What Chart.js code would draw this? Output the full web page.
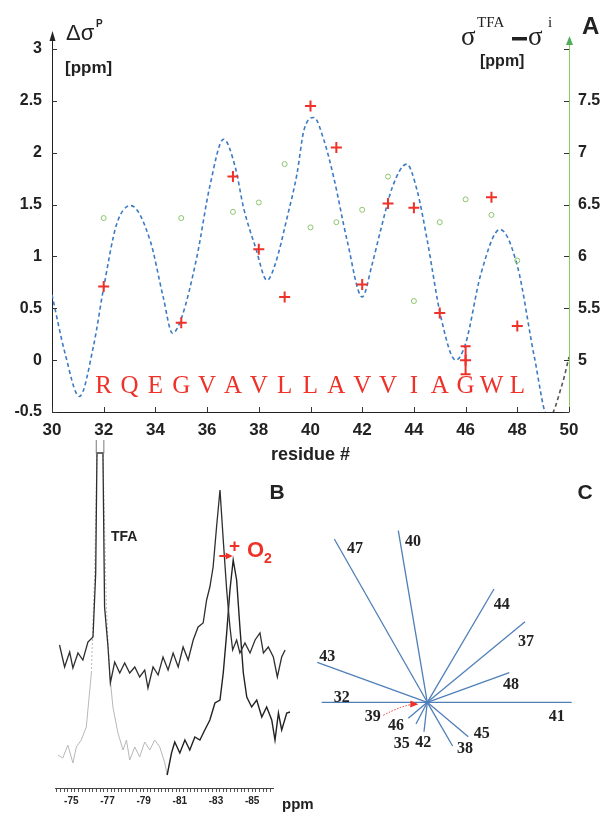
<!DOCTYPE html>
<html lang="en">
<head>
  <meta charset="UTF-8">
  <title>Residue shifts</title>
  <script src="https://cdn.jsdelivr.net/npm/chart.js"></script>
  <style>
    body { margin: 0; background: #fff; }
    #wrap { position: relative; width: 601px; height: 815px; }
    canvas { position: absolute; }
    #chartA { left: 0; top: 0; }
    #chartB { left: 40px; top: 440px; }
    #chartC { left: 300px; top: 470px; }
  </style>
</head>
<body>
<div id="wrap">
  <canvas id="chartA" width="601" height="470"></canvas>
  <canvas id="chartB" width="290" height="375"></canvas>
  <canvas id="chartC" width="301" height="330"></canvas>
</div>
<script>
// ---- panel A : shifts per residue ----
const residues = [32, 33, 34, 35, 36, 37, 38, 39, 40, 41, 42, 43, 44, 45, 46, 47, 48];
const sequence = ['R', 'Q', 'E', 'G', 'V', 'A', 'V', 'L', 'L', 'A', 'V', 'V', 'I', 'A', 'G', 'W', 'L'];
const deltaP = [0.71, null, null, 0.36, null, 1.77, 1.07, 0.61, 2.45, 2.05, 0.73, 1.51, 1.47, 0.455, 0.0, 1.57, 0.33];
const deltaPErr = [0, 0, 0, 0, 0, 0, 0, 0, 0, 0, 0, 0, 0, 0, 0.135, 0, 0];
const sigmaDiff = [6.37, null, null, 6.37, null, 6.43, 6.52, 6.89, 6.28, 6.33, 6.45, 6.77, 5.57, 6.33, 6.55, 6.40, 5.96];
// dashed fit curve
const fitX = [30, 30.5, 31.06, 31.6, 32, 32.5, 33.05, 33.8, 34.3, 34.66, 35.0, 35.6, 36.1, 36.64, 37.09, 37.41, 37.87, 38.32, 38.64, 39.1, 39.48, 39.74, 40.13, 40.52, 40.9, 41.42, 42.0, 42.39, 42.71, 43.17, 43.72, 44.13, 44.52, 45.04, 45.62, 46.0, 46.59, 47.33, 48.01, 48.66, 49.2, 49.75, 50];
const fitY = [0.63, 0.07, -0.35, 0.13, 0.70, 1.31, 1.49, 1.15, 0.61, 0.26, 0.40, 0.99, 1.67, 2.13, 1.86, 1.47, 1.09, 0.77, 0.93, 1.38, 1.80, 2.21, 2.34, 2.12, 1.76, 1.15, 0.61, 0.93, 1.25, 1.67, 1.89, 1.63, 1.15, 0.42, 0.0, 0.16, 0.83, 1.26, 0.90, 0.03, -0.56, -0.22, 0.03];

// ---- panel B : 19F spectra (ppm, intensity) ----
const ppmUpper = [-74.35, -74.63, -74.91, -75.09, -75.37, -75.64, -75.92, -76.20, -76.35, -76.42, -76.75, -76.84, -77.03, -77.16, -77.40, -77.68, -77.95, -78.23, -78.51, -78.78, -79.06, -79.24, -79.52, -79.80, -80.07, -80.35, -80.63, -80.91, -81.18, -81.46, -81.74, -82.01, -82.29, -82.48, -82.66, -82.84, -83.03, -83.22, -83.40, -83.59, -83.77, -83.92, -84.14, -84.32, -84.60, -84.88, -85.16, -85.43, -85.62, -85.89, -86.17, -86.39, -86.63, -86.82];
const intUpper = [143, 121, 136, 120, 135, 128, 146, 151, 215, 335, 335, 181, 141, 105, 126, 115, 125, 115, 121, 111, 118, 100, 121, 113, 131, 118, 135, 121, 141, 128, 148, 161, 165, 188, 201, 221, 261, 298, 248, 198, 161, 138, 148, 135, 145, 135, 148, 155, 135, 141, 131, 111, 131, 138];
const ppmLower = [-74.26, -74.53, -74.81, -75.09, -75.28, -75.55, -75.83, -76.11, -76.29, -76.42, -76.75, -76.94, -77.12, -77.30, -77.58, -77.86, -78.05, -78.23, -78.51, -78.78, -79.06, -79.34, -79.61, -79.89, -80.17, -80.30, -80.54, -80.72, -81.00, -81.28, -81.55, -81.83, -82.11, -82.38, -82.66, -82.94, -83.22, -83.40, -83.59, -83.77, -83.95, -84.14, -84.32, -84.51, -84.70, -84.97, -85.25, -85.53, -85.80, -86.08, -86.26, -86.45, -86.63, -86.91, -87.09];
const intLower = [33, 30, 43, 25, 41, 48, 61, 115, 215, 335, 335, 181, 115, 81, 55, 38, 48, 28, 41, 31, 46, 38, 48, 41, 25, 13, 35, 46, 35, 48, 38, 51, 48, 58, 68, 85, 88, 115, 155, 198, 228, 208, 161, 115, 91, 81, 88, 71, 81, 68, 48, 75, 58, 75, 76];

// ---- panel C : per-residue vectors ----
const wheelRes = ['41', '32', '43', '47', '40', '44', '37', '48', '45', '38', '42', '46', '35'];
const wheelX = [144.4, -105.6, -110, -93, -29, 66.7, 97.7, 82, 41, 25.3, -3.3, -19, -11.3];
const wheelY = [0, 0, 40, 163.3, 171.6, 113.3, 80.6, 29.6, -34.4, -43.7, -29.4, -16, -21.7];
const wheelLabels = ['47', '40', '44', '37', '43', '48', '32', '41', '39', '46', '45', '35', '42', '38'];
const wheelLabelX = [-72.3, -14.3, 74.4, 98.7, -100, 83.7, -85.6, 129.4, -54.6, -31.3, 54.4, -25.6, -4, 37.7];
const wheelLabelY = [153.3, 160.6, 97.3, 60.6, 45.6, 17.3, 4.6, -14.4, -14.4, -23.7, -32, -41.7, -41, -47];

const RED = '#ee3129';
const GREEN = '#8cc56c';
const BLUE = '#3b7bc3';
const INK = '#222';

function arrowHead(ctx, x, y, ang, len, half) {
  ctx.beginPath();
  ctx.moveTo(x, y);
  ctx.lineTo(x - len * Math.cos(ang) + half * Math.sin(ang), y - len * Math.sin(ang) - half * Math.cos(ang));
  ctx.lineTo(x - len * Math.cos(ang) - half * Math.sin(ang), y - len * Math.sin(ang) + half * Math.cos(ang));
  ctx.closePath();
  ctx.fill();
}

const plainNum = v => String(Math.round(v * 100) / 100);

// ticks pointing into the plot, axis arrows, letters, error bar, headings
const panelA = {
  id: 'panelA',
  afterDraw(chart) {
    const {ctx, chartArea: a, scales: {x, y, y2}} = chart;
    ctx.save();
    ctx.lineWidth = 1;
    ctx.strokeStyle = '#333';
    ctx.beginPath();
    y.ticks.forEach(t => {
      const p = Math.round(y.getPixelForValue(t.value)) + 0.5;
      ctx.moveTo(a.left, p); ctx.lineTo(a.left + 5, p);
    });
    y2.ticks.forEach(t => {
      const p = Math.round(y2.getPixelForValue(t.value)) + 0.5;
      ctx.moveTo(a.right, p); ctx.lineTo(a.right - 5, p);
    });
    x.ticks.forEach(t => {
      const p = Math.round(x.getPixelForValue(t.value)) + 0.5;
      ctx.moveTo(p, a.bottom); ctx.lineTo(p, a.bottom - 5);
    });
    ctx.stroke();

    // axis extensions with arrow heads
    ctx.strokeStyle = INK;
    ctx.beginPath(); ctx.moveTo(a.left + 0.5, a.top); ctx.lineTo(a.left + 0.5, 38); ctx.stroke();
    ctx.fillStyle = INK;
    arrowHead(ctx, a.left + 0.5, 31, -Math.PI / 2, 10, 3);
    ctx.strokeStyle = GREEN;
    ctx.beginPath(); ctx.moveTo(a.right + 0.5, a.top); ctx.lineTo(a.right + 0.5, 44); ctx.stroke();
    ctx.fillStyle = '#4fae5a';
    arrowHead(ctx, a.right + 0.5, 36, -Math.PI / 2, 9, 3.5);

    // error bars
    ctx.strokeStyle = RED;
    ctx.lineWidth = 2;
    residues.forEach((r, i) => {
      if (!deltaPErr[i]) return;
      const px = x.getPixelForValue(r);
      const top = y.getPixelForValue(deltaP[i] + deltaPErr[i]);
      const bot = y.getPixelForValue(deltaP[i] - deltaPErr[i]);
      ctx.beginPath();
      ctx.moveTo(px, top); ctx.lineTo(px, bot);
      ctx.moveTo(px - 5, top); ctx.lineTo(px + 5, top);
      ctx.moveTo(px - 5, bot); ctx.lineTo(px + 5, bot);
      ctx.stroke();
    });

    // one-letter sequence
    ctx.fillStyle = RED;
    ctx.font = '25px "Liberation Serif"';
    ctx.textAlign = 'center';
    ctx.textBaseline = 'middle';
    residues.forEach((r, i) => {
      ctx.fillText(sequence[i], x.getPixelForValue(r), y.getPixelForValue(-0.25));
    });

    // axis headings
    ctx.fillStyle = INK;
    ctx.textAlign = 'left';
    ctx.textBaseline = 'alphabetic';
    ctx.font = '22px "Liberation Sans"';
    ctx.fillText('Δσ', 66, 40);
    ctx.font = 'bold 10px "Liberation Sans"';
    ctx.fillText('P', 96, 27);
    ctx.font = 'bold 17px "Liberation Sans"';
    ctx.fillText('[ppm]', 65, 73);
    ctx.font = '27px "Liberation Serif"';
    ctx.fillText('σ', 461, 45);
    ctx.fillText('σ', 528, 45);
    ctx.font = '15px "Liberation Serif"';
    ctx.fillText('TFA', 477, 27);
    ctx.fillText('i', 548, 27);
    ctx.fillRect(512, 37, 15, 3.5);
    ctx.font = 'bold 16px "Liberation Sans"';
    ctx.fillText('[ppm]', 480, 66);
    ctx.font = 'bold 24px "Liberation Sans"';
    ctx.fillText('A', 582, 34);
    ctx.restore();
  }
};

new Chart(document.getElementById('chartA'), {
  type: 'scatter',
  data: {
    datasets: [
      {
        label: 'Δσ P',
        data: residues.map((r, i) => ({x: r, y: deltaP[i]})).filter(p => p.y !== null),
        pointStyle: 'cross',
        pointRadius: 5.5,
        borderColor: RED,
        borderWidth: 2,
        yAxisID: 'y'
      },
      {
        label: 'σTFA − σi',
        data: residues.map((r, i) => ({x: r, y: sigmaDiff[i]})).filter(p => p.y !== null),
        pointStyle: 'circle',
        pointRadius: 2.5,
        borderColor: GREEN,
        backgroundColor: 'rgba(0,0,0,0)',
        borderWidth: 1,
        yAxisID: 'y2'
      },
      {
        label: 'fit',
        data: fitX.map((v, i) => ({x: v, y: fitY[i]})),
        showLine: true,
        pointRadius: 0,
        borderColor: BLUE,
        borderWidth: 1.6,
        borderDash: [4, 3],
        cubicInterpolationMode: 'monotone',
        segment: { borderColor: c => c.p0.parsed.x >= 49.2 ? '#555' : undefined },
        yAxisID: 'y'
      }
    ]
  },
  options: {
    responsive: false,
    animation: false,
    events: [],
    layout: { padding: { top: 49, left: 0, right: 0, bottom: 0 } },
    plugins: { legend: { display: false }, tooltip: { enabled: false } },
    scales: {
      x: {
        type: 'linear', min: 30, max: 50,
        ticks: { stepSize: 2, color: INK, font: { family: 'Liberation Sans', size: 17, weight: 'bold' }, padding: 8, maxRotation: 0 },
        grid: { display: true, drawOnChartArea: false, drawTicks: false },
        border: { display: true, color: INK, width: 1 },
        title: { display: true, text: 'residue #', color: INK, font: { family: 'Liberation Sans', size: 18, weight: 'bold' }, padding: { top: 0, bottom: 4 } },
        afterFit: s => { s.height = 58; }
      },
      y: {
        position: 'left', min: -0.5, max: 3,
        ticks: { stepSize: 0.5, color: INK, font: { family: 'Liberation Sans', size: 16, weight: 'bold' }, padding: 10, callback: plainNum },
        grid: { display: true, drawOnChartArea: false, drawTicks: false },
        border: { display: true, color: INK, width: 1 },
        afterFit: s => { s.width = 52; }
      },
      y2: {
        position: 'right', min: 4.5, max: 8,
        ticks: {
          stepSize: 0.5, color: INK, font: { family: 'Liberation Sans', size: 16, weight: 'bold' }, padding: 9,
          callback: v => (v > 4.6 && v < 7.9) ? plainNum(v) : ''
        },
        grid: { display: true, drawOnChartArea: false, drawTicks: false },
        border: { display: true, color: GREEN, width: 1 },
        afterFit: s => { s.width = 32; }
      }
    }
  },
  plugins: [panelA]
});

// ---- panel B ----
const panelB = {
  id: 'panelB',
  afterDraw(chart) {
    const {ctx, scales: {x, y}} = chart;
    ctx.save();
    // truncation box over the TFA peak
    const bx0 = x.getPixelForValue(-76.38), bx1 = x.getPixelForValue(-76.80);
    const by0 = y.getPixelForValue(351), by1 = y.getPixelForValue(335);
    ctx.strokeStyle = '#777';
    ctx.lineWidth = 1;
    ctx.strokeRect(Math.min(bx0, bx1), by0, Math.abs(bx1 - bx0), by1 - by0);

    // shift arrow between the two peaks
    const ax0 = x.getPixelForValue(-83.18), ax1 = x.getPixelForValue(-83.92), ay = y.getPixelForValue(232);
    ctx.strokeStyle = RED;
    ctx.fillStyle = RED;
    ctx.lineWidth = 2;
    ctx.beginPath(); ctx.moveTo(ax0, ay); ctx.lineTo(ax1 - 4, ay); ctx.stroke();
    arrowHead(ctx, ax1, ay, 0, 7, 3.5);
    ctx.textBaseline = 'alphabetic';
    ctx.textAlign = 'left';
    ctx.font = 'bold 19px "Liberation Sans"';
    ctx.fillText('+', 189, 112);
    ctx.font = 'bold 22px "Liberation Sans"';
    ctx.fillText('O', 207, 117);
    ctx.font = 'bold 14px "Liberation Sans"';
    ctx.fillText('2', 224, 123);

    ctx.fillStyle = INK;
    ctx.font = 'bold 14px "Liberation Sans"';
    ctx.fillText('TFA', 71, 101);
    ctx.font = 'bold 15px "Liberation Sans"';
    ctx.fillText('ppm', 242, 369);
    ctx.font = 'bold 21px "Liberation Sans"';
    ctx.textAlign = 'center';
    ctx.textBaseline = 'middle';
    ctx.fillText('B', 237, 53);
    ctx.restore();
  }
};

new Chart(document.getElementById('chartB'), {
  type: 'scatter',
  data: {
    datasets: [
      {
        label: 'without O2',
        data: ppmUpper.map((v, i) => ({x: v, y: intUpper[i]})),
        showLine: true, pointRadius: 0, borderColor: '#2e2e2e', borderWidth: 1.3, clip: false
      },
      {
        label: 'with O2',
        data: ppmLower.map((v, i) => ({x: v, y: intLower[i]})),
        showLine: true, pointRadius: 0, borderColor: '#222', borderWidth: 1.4, clip: false,
        segment: {
          borderColor: c => c.p1.parsed.x > -80.35 ? '#b8b8b8' : '#222',
          borderWidth: c => c.p1.parsed.x > -80.35 ? 1 : 1.4,
          borderDash: c => (c.p0.parsed.x > -78 && c.p0.parsed.y > 110 && c.p1.parsed.y > 110) ? [2, 2] : undefined
        }
      }
    ]
  },
  options: {
    responsive: false,
    animation: false,
    events: [],
    layout: { padding: { top: 8, left: 15, right: 57, bottom: 0 } },
    plugins: { legend: { display: false }, tooltip: { enabled: false } },
    scales: {
      x: {
        type: 'linear', reverse: true, min: -86.15, max: -74.1,
        ticks: {
          stepSize: 0.2, autoSkip: false, maxTicksLimit: 200, includeBounds: false, maxRotation: 0, padding: 3,
          color: INK, font: { family: 'Liberation Sans', size: 10, weight: 'bold' },
          callback: v => {
            const r = Math.round(v);
            return (Math.abs(v - r) < 1e-6 && Math.abs(r) % 2 === 1 && r <= -75 && r >= -85) ? String(r) : '';
          }
        },
        grid: { display: true, drawOnChartArea: false, drawTicks: true, tickLength: 4, color: '#555' },
        border: { display: true, color: '#444', width: 1 },
        afterFit: s => { s.height = 27; }
      },
      y: { display: false, min: 0, max: 340 }
    }
  },
  plugins: [panelB]
});

// ---- panel C ----
const panelC = {
  id: 'panelC',
  afterDraw(chart) {
    const {ctx, scales: {x, y}} = chart;
    ctx.save();
    ctx.fillStyle = INK;
    ctx.font = 'bold 16px "Liberation Serif"';
    ctx.textAlign = 'center';
    ctx.textBaseline = 'middle';
    wheelLabels.forEach((t, i) => {
      ctx.fillText(t, x.getPixelForValue(wheelLabelX[i]), y.getPixelForValue(wheelLabelY[i]));
    });
    // residue 39 marker
    const sx = x.getPixelForValue(-44), sy = y.getPixelForValue(-13);
    const cx = x.getPixelForValue(-25), cy = y.getPixelForValue(-3);
    const ex = x.getPixelForValue(-9), ey = y.getPixelForValue(-2);
    ctx.strokeStyle = RED;
    ctx.fillStyle = RED;
    ctx.lineWidth = 1;
    ctx.setLineDash([1.5, 1.5]);
    ctx.beginPath(); ctx.moveTo(sx, sy); ctx.quadraticCurveTo(cx, cy, ex - 5, ey); ctx.stroke();
    ctx.setLineDash([]);
    arrowHead(ctx, ex, ey, 0.05, 8, 3.5);
    ctx.fillStyle = INK;
    ctx.font = 'bold 21px "Liberation Sans"';
    ctx.fillText('C', 285, 23);
    ctx.restore();
  }
};

new Chart(document.getElementById('chartC'), {
  type: 'scatter',
  data: {
    datasets: wheelRes.map((r, i) => ({
      label: r,
      data: [{x: 0, y: 0}, {x: wheelX[i], y: wheelY[i]}],
      showLine: true, pointRadius: 0, borderColor: '#4f7fb9', borderWidth: 1.3
    }))
  },
  options: {
    responsive: false,
    animation: false,
    events: [],
    layout: { padding: 0 },
    plugins: { legend: { display: false }, tooltip: { enabled: false } },
    scales: {
      x: { display: false, min: -127.3, max: 173.7 },
      y: { display: false, min: -97.7, max: 232.3 }
    }
  },
  plugins: [panelC]
});
</script>
</body>
</html>
